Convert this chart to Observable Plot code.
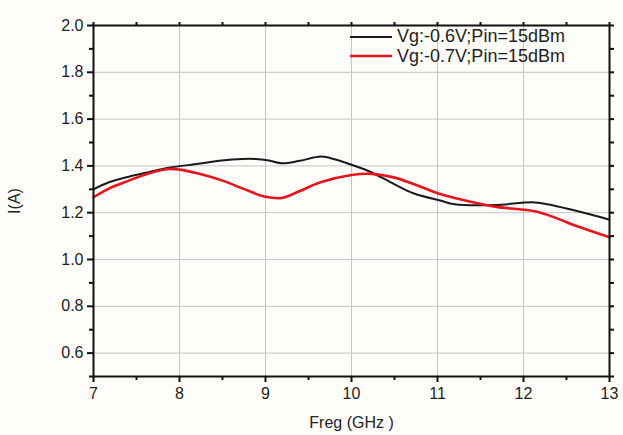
<!DOCTYPE html>
<html>
<head>
<meta charset="utf-8">
<script src="https://cdn.jsdelivr.net/npm/d3@7"></script>
<script src="https://cdn.jsdelivr.net/npm/@observablehq/plot@0.6"></script>
<style>
  html, body { margin: 0; padding: 0; background: #fffdf9; }
  #wrap { position: relative; width: 623px; height: 435px; font-family: "Liberation Sans", Arial, sans-serif; }
  #legend { position: absolute; left: 350px; top: 27px; font-size: 18px; color: #222; line-height: 19px; }
  #legend .row { display: flex; align-items: center; height: 19.5px; }
  #legend svg { margin-right: 5px; }
</style>
</head>
<body>
<div id="wrap"></div>
<script>
// Series (frequency in GHz, current in A)
const freqBlack = [7.0, 7.18, 7.41, 7.64, 7.875, 8.22, 8.49, 8.73, 8.88, 9.04, 9.19, 9.4, 9.64, 9.75, 10.0, 10.23, 10.49, 10.72, 11.03, 11.2, 11.67, 12.13, 12.36, 12.6, 13.0];
const currBlack = [1.30, 1.33, 1.354, 1.373, 1.392, 1.409, 1.423, 1.43, 1.43, 1.423, 1.411, 1.422, 1.44, 1.434, 1.405, 1.373, 1.323, 1.283, 1.252, 1.236, 1.233, 1.244, 1.23, 1.209, 1.17];
const freqRed = [7.0, 7.18, 7.41, 7.64, 7.875, 8.0, 8.23, 8.5, 8.73, 9.0, 9.19, 9.4, 9.64, 10.0, 10.23, 10.49, 10.72, 11.03, 11.2, 11.67, 12.13, 12.36, 12.6, 13.0];
const currRed = [1.266, 1.303, 1.337, 1.368, 1.387, 1.384, 1.366, 1.337, 1.304, 1.268, 1.263, 1.293, 1.33, 1.361, 1.366, 1.351, 1.323, 1.28, 1.263, 1.226, 1.206, 1.18, 1.145, 1.095];
const seriesNames = ["Vg:-0.6V;Pin=15dBm", "Vg:-0.7V;Pin=15dBm"];
const seriesColors = ["#1a1a1a", "#e8141c"];

// Ticks
const xMajor = [7, 8, 9, 10, 11, 12, 13];
const xMinor = [7.5, 8.5, 9.5, 10.5, 11.5, 12.5];
const xGrid = [8, 9, 10, 11, 12];
const yMajor = [0.6, 0.8, 1.0, 1.2, 1.4, 1.6, 1.8, 2.0];
const yMinor = [0.5, 0.7, 0.9, 1.1, 1.3, 1.5, 1.7, 1.9];
const yGrid = [0.6, 0.8, 1.0, 1.2, 1.4, 1.6, 1.8];

const black = freqBlack.map((f, i) => ({f, v: currBlack[i]}));
const red = freqRed.map((f, i) => ({f, v: currRed[i]}));

const chart = Plot.plot({
  width: 623,
  height: 435,
  marginLeft: 93,
  marginTop: 25,
  marginRight: 14,
  marginBottom: 59,
  style: {background: "transparent", fontFamily: "'Liberation Sans', Arial, sans-serif", color: "#222"},
  x: {domain: [7, 13]},
  y: {domain: [0.5, 2.0]},
  marks: [
    Plot.gridX(xGrid, {stroke: "#c4c4c4", strokeOpacity: 1, strokeWidth: 1}),
    Plot.gridY(yGrid, {stroke: "#c4c4c4", strokeOpacity: 1, strokeWidth: 1}),
    Plot.line(black, {x: "f", y: "v", stroke: seriesColors[0], strokeWidth: 2, curve: "catmull-rom"}),
    Plot.line(red, {x: "f", y: "v", stroke: seriesColors[1], strokeWidth: 2.6, curve: "catmull-rom"}),
    Plot.frame({stroke: "#111", strokeWidth: 2}),
    Plot.axisX(xMajor, {tickSize: 6, tickPadding: 5, strokeWidth: 2, stroke: "#111", fill: "#222", fontSize: 16, tickFormat: d => String(d), label: "Freg (GHz )", labelAnchor: "center", labelArrow: "none", labelOffset: 51}),
    Plot.axisX(xMinor, {tickSize: 4, strokeWidth: 2, stroke: "#111", text: null, label: null}),
    Plot.axisX([...xMajor, ...xMinor], {anchor: "top", tickSize: 4, strokeWidth: 2, stroke: "#111", text: null, label: null}),
    Plot.axisY(yMajor, {tickSize: 6, tickPadding: 4, strokeWidth: 2, stroke: "#111", fill: "#222", fontSize: 16, tickFormat: d => d.toFixed(1), label: "I(A)", labelAnchor: "center", labelArrow: "none", labelOffset: 85}),
    Plot.axisY(yMinor, {tickSize: 4, strokeWidth: 2, stroke: "#111", text: null, label: null}),
    Plot.axisY([...yMajor, ...yMinor], {anchor: "right", tickSize: 4, strokeWidth: 2, stroke: "#111", text: null, label: null})
  ]
});

const wrap = document.getElementById("wrap");
wrap.appendChild(chart);

const legend = document.createElement("div");
legend.id = "legend";
seriesNames.forEach((name, i) => {
  const row = document.createElement("div");
  row.className = "row";
  row.innerHTML = `<svg width="42" height="6"><line x1="0" x2="42" y1="3" y2="3" stroke="${seriesColors[i]}" stroke-width="${i === 0 ? 2 : 2.6}"/></svg><span>${name}</span>`;
  legend.appendChild(row);
});
wrap.appendChild(legend);
</script>
</body>
</html>
